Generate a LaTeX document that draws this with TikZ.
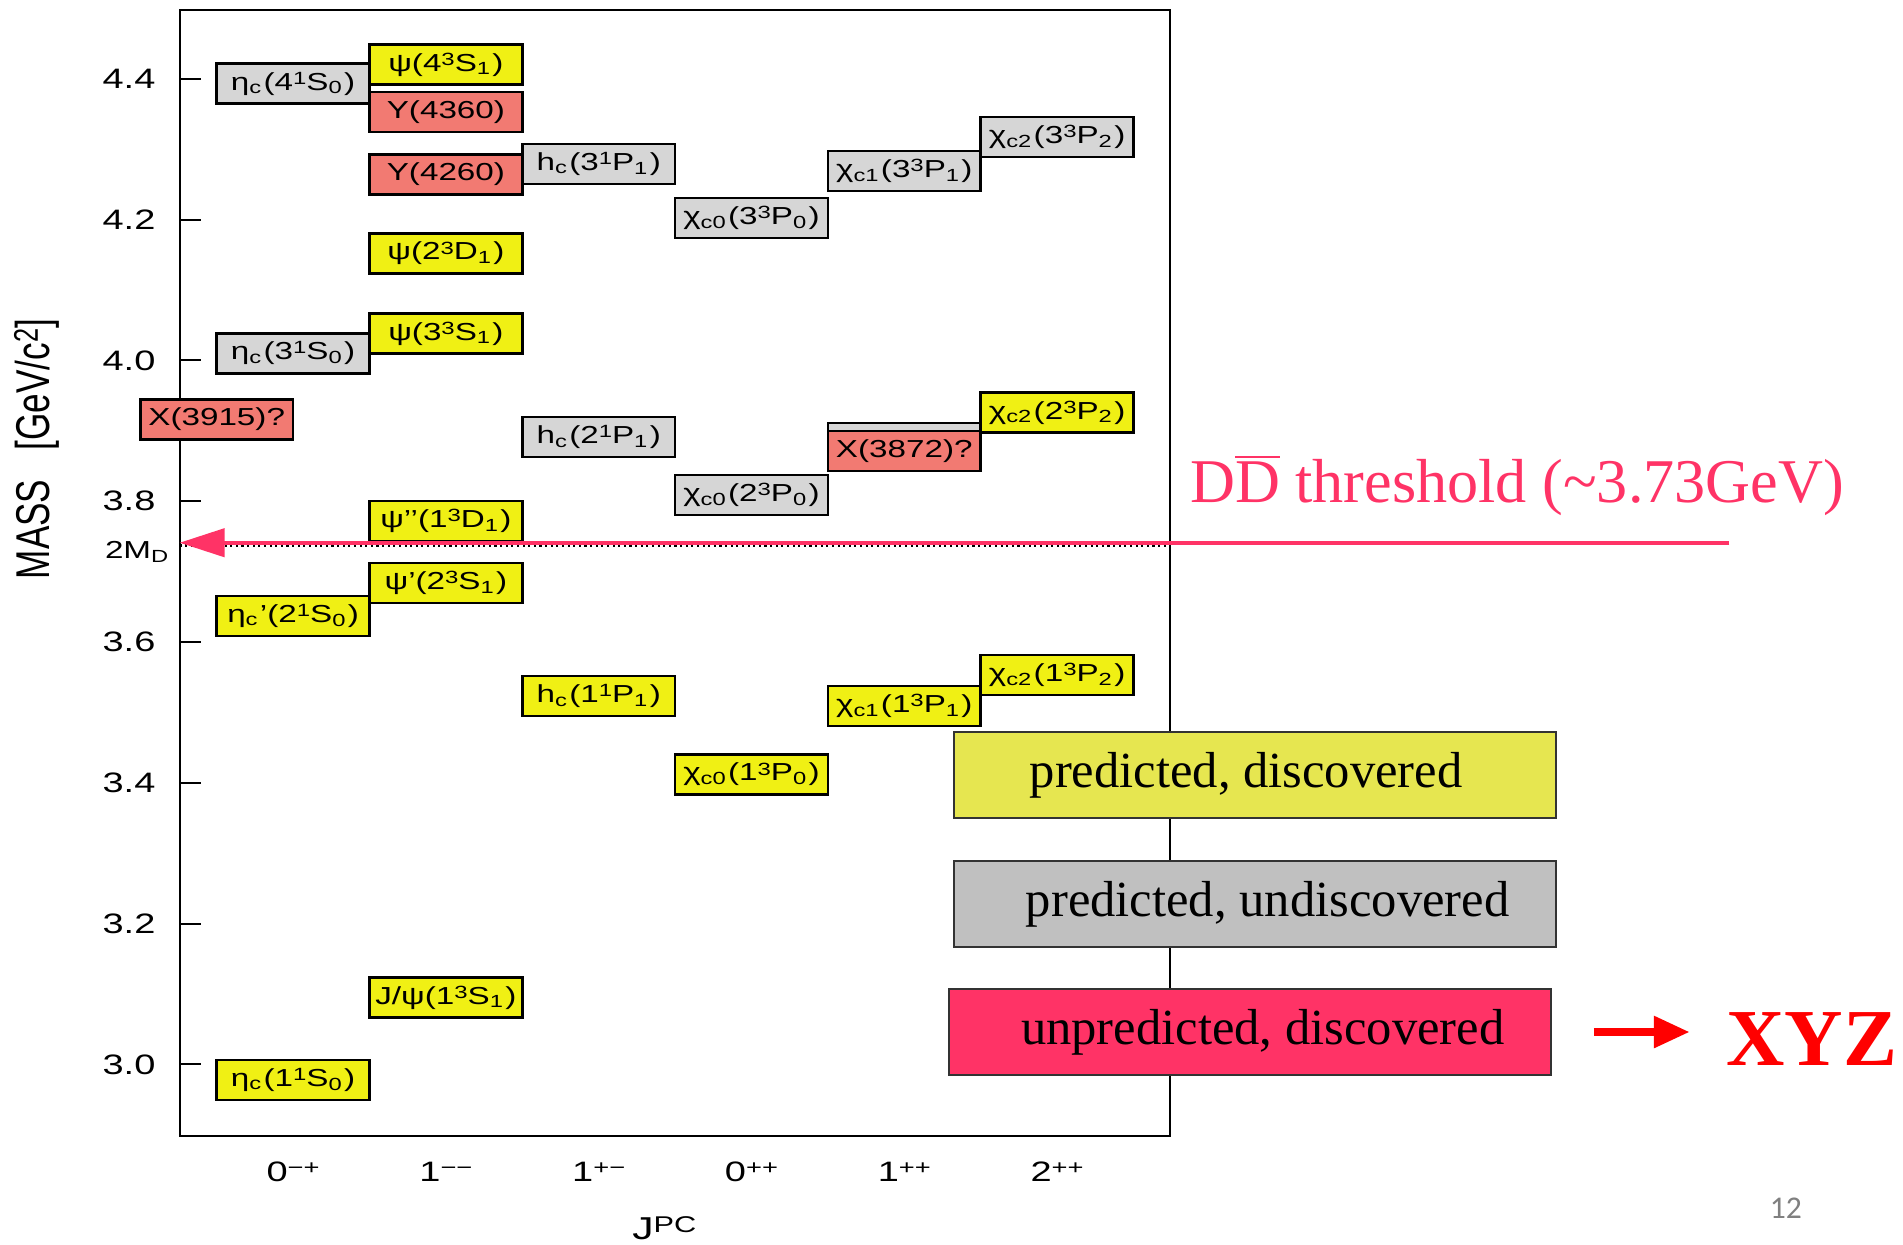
\documentclass[tikz,border=0pt]{standalone}
\usepackage{fontspec}
\setmainfont{Liberation Serif}
\setsansfont{Liberation Sans}
\newfontfamily\pagefont{Carlito}
\usepackage{graphicx}
\usepackage{tikz}
\usetikzlibrary{arrows.meta}
\definecolor{found}{HTML}{F0F014}
\definecolor{missing}{HTML}{D6D6D6}
\definecolor{odd}{HTML}{F27A72}
\definecolor{legfound}{HTML}{E6E650}
\definecolor{legmissing}{HTML}{C0C0C0}
\definecolor{legodd}{HTML}{FF3366}
\definecolor{thresh}{HTML}{FF3366}
\definecolor{xyzred}{HTML}{FF0000}
\newcommand{\hwide}[1]{\scalebox{1.35}[1]{#1}}
\newcommand{\lo}[1]{\textsubscript{#1}}
\newcommand{\hi}[1]{\raisebox{0.45ex}{\scalebox{0.72}{#1}}}
\tikzset{
  lvl/.style={draw, line width=0.7pt, minimum width=1.528cm, minimum height=0.40cm,
    inner sep=0pt, font=\sffamily\fontsize{7}{8}\selectfont},
  lvlobs/.style={lvl, fill=found},
  lvlpred/.style={lvl, fill=missing},
  lvlexo/.style={lvl, fill=odd},
  legbox/.style={draw=black!80, line width=0.5pt, minimum width=6.02cm,
    minimum height=0.862cm, inner sep=0pt, font=\fontsize{14.4}{16}\selectfont},
  axlab/.style={font=\sffamily\fontsize{8}{9}\selectfont},
  thr/.style={draw=thresh, line width=1.2pt, -{Triangle[length=0.45cm, width=0.28cm]}}
}

\begin{document}
\begin{tikzpicture}
  \useasboundingbox (0,0) rectangle (19.03,12.44);
  % x = J^PC column, y = mass in GeV
  \begin{scope}[shift={(2.931cm,-19.324cm)}, x=1.528cm, y=7.04cm]
  \draw[line width=0.6pt] (-0.743,2.898) rectangle (5.739,4.498);

  \foreach \m [count=\i] in {3.0,3.2,3.4,3.6,3.8,4.0,4.2,4.4} {
    \draw[line width=0.6pt] (-0.743,\m) -- ++(0.143,0);
    \node[axlab, anchor=east] (tick\i) at (-0.82,\m) {\hwide{\m}};
  }
  \foreach \c/\jpc in {0/0\hi{−+}, 1/1\hi{−−}, 2/1\hi{+−}, 3/0\hi{++}, 4/1\hi{++}, 5/2\hi{++}}
    \node[axlab] (jpc\c) at (\c,2.848) {\hwide{\jpc}};
  \node[font=\sffamily\fontsize{9}{10}\selectfont] (jpclab) at (2.43,2.767) {\hwide{J\hi{PC}}};
  \node[rotate=90, font=\sffamily\fontsize{10}{12}\selectfont] (masslab) at (-1.68,3.874)
    {\scalebox{1}[1.35]{MASS~~~[GeV/c\hi{2}]}};
  \node[font=\sffamily\fontsize{7}{8}\selectfont, anchor=east] (twomd) at (-0.72,3.728)
    {\hwide{2M\lo{D}}};

  % 0-+
  \node[lvlpred] (etac4S) at (0,4.393) {\hwide{η\lo{c}(4\hi{1}S\lo{0})}};
  \node[lvlpred] (etac3S) at (0,4.010) {\hwide{η\lo{c}(3\hi{1}S\lo{0})}};
  \node[lvlobs]  (etac2S) at (0,3.637) {\hwide{η\lo{c}’(2\hi{1}S\lo{0})}};
  \node[lvlobs]  (etac1S) at (0,2.978) {\hwide{η\lo{c}(1\hi{1}S\lo{0})}};
  % 1--
  \node[lvlobs] (psi4S) at (1,4.420) {\hwide{ψ(4\hi{3}S\lo{1})}};
  \node[lvlexo] (y4360) at (1,4.353) {\hwide{Y(4360)}};
  \node[lvlexo] (y4260) at (1,4.264) {\hwide{Y(4260)}};
  \node[lvlobs] (psi2D) at (1,4.152) {\hwide{ψ(2\hi{3}D\lo{1})}};
  \node[lvlobs] (psi3S) at (1,4.038) {\hwide{ψ(3\hi{3}S\lo{1})}};
  \node[lvlobs] (psi1D) at (1,3.772) {\hwide{ψ’’(1\hi{3}D\lo{1})}};
  \node[lvlobs] (psi2S) at (1,3.684) {\hwide{ψ’(2\hi{3}S\lo{1})}};
  \node[lvlobs] (jpsi)  at (1,3.095) {\hwide{J/ψ(1\hi{3}S\lo{1})}};
  % 1+-
  \node[lvlpred] (hc3P) at (2,4.279) {\hwide{h\lo{c}(3\hi{1}P\lo{1})}};
  \node[lvlpred] (hc2P) at (2,3.891) {\hwide{h\lo{c}(2\hi{1}P\lo{1})}};
  \node[lvlobs]  (hc1P) at (2,3.523) {\hwide{h\lo{c}(1\hi{1}P\lo{1})}};
  % 0++
  \node[lvlpred] (chi03P) at (3,4.202) {\hwide{χ\lo{c0}(3\hi{3}P\lo{0})}};
  \node[lvlpred] (chi02P) at (3,3.809) {\hwide{χ\lo{c0}(2\hi{3}P\lo{0})}};
  \node[lvlobs]  (chi01P) at (3,3.412) {\hwide{χ\lo{c0}(1\hi{3}P\lo{0})}};
  % 1++
  \node[lvlpred] (chi13P) at (4,4.269) {\hwide{χ\lo{c1}(3\hi{3}P\lo{1})}};
  \node[lvlpred] (chi12P) at (4,3.883) {};
  \node[lvlexo]  (x3872)  at (4,3.871) {\hwide{X(3872)?}};
  \node[lvlobs]  (chi11P) at (4,3.509) {\hwide{χ\lo{c1}(1\hi{3}P\lo{1})}};
  % 2++
  \node[lvlpred] (chi23P) at (5,4.317) {\hwide{χ\lo{c2}(3\hi{3}P\lo{2})}};
  \node[lvlobs]  (chi22P) at (5,3.926) {\hwide{χ\lo{c2}(2\hi{3}P\lo{2})}};
  \node[lvlobs]  (chi21P) at (5,3.553) {\hwide{χ\lo{c2}(1\hi{3}P\lo{2})}};

  \node[lvlexo] (x3915) at (-0.5,3.916) {\hwide{X(3915)?}};

  % DDbar threshold
  \coordinate (thrR) at (9.40,3.741);
  \coordinate (thrL) at (-0.743,3.741);
  \draw[densely dotted, line width=0.6pt] (-0.743,3.737) -- (5.739,3.737);
  \draw[thr] (thrR) -- (thrL);
  \node[font=\fontsize{17.7}{20}\selectfont, text=thresh, anchor=base] (thrtext) at (8.01,3.798)
    {D$\overline{\mbox{D}}$ threshold (\textasciitilde3.73GeV)};

  % legend
  \node[legbox, fill=legfound]   (legA) at (6.295,3.411) {\hspace{-0.35em}predicted, discovered};
  \node[legbox, fill=legmissing] (legB) at (6.295,3.228) {\hspace{0.5em}predicted, undiscovered};
  \node[legbox, fill=legodd]     (legC) at (6.263,3.046) {\hspace{0.5em}unpredicted, discovered};
  \node[font=\bfseries\fontsize{23}{24}\selectfont, text=xyzred, inner sep=0pt, anchor=base]
    (xyz) at (9.94,2.998) {XYZ};
  \draw[xyzred, line width=2.4pt, -{Triangle[length=0.36cm, width=0.3cm]}]
    ([xshift=0.42cm]legC.east) -- ([xshift=-0.36cm]legC.east -| xyz.west);

  \node[font=\pagefont\fontsize{9}{10}\selectfont, text=gray] (pgno) at (9.77,2.795) {12};
  \end{scope}
\end{tikzpicture}
\end{document}
